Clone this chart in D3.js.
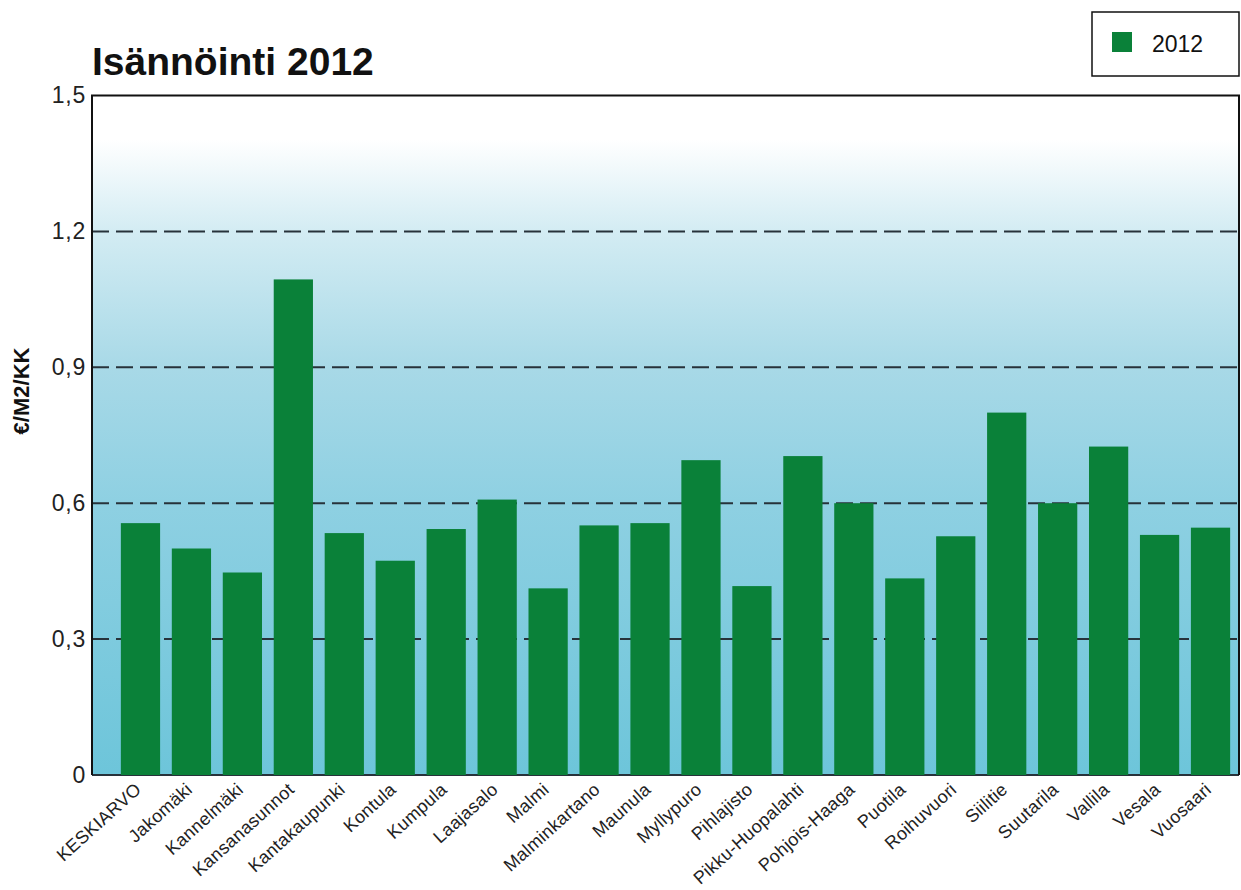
<!DOCTYPE html>
<html><head><meta charset="utf-8">
<script src="https://cdn.jsdelivr.net/npm/d3@7/dist/d3.min.js"></script>
<style>body{margin:0;background:#fff}</style>
</head><body><svg id="c" width="1241" height="890"></svg>
<script>
const categories = ["KESKIARVO","Jakomäki","Kannelmäki","Kansanasunnot","Kantakaupunki","Kontula","Kumpula","Laajasalo","Malmi","Malminkartano","Maunula","Myllypuro","Pihlajisto","Pikku-Huopalahti","Pohjois-Haaga","Puotila","Roihuvuori","Siilitie","Suutarila","Vallila","Vesala","Vuosaari"];
const values2012 = [0.556,0.50,0.447,1.094,0.534,0.473,0.543,0.608,0.412,0.551,0.556,0.695,0.417,0.704,0.60,0.434,0.527,0.80,0.60,0.725,0.530,0.546];
const yTicks = [0,0.3,0.6,0.9,1.2,1.5];
const gridTicks = [0,0.3,0.6,0.9,1.2];
const seriesName = "2012";
const titleText = "Isännöinti 2012";
const yTitleText = "€/M2/KK";

const svg = d3.select("#c");
const font = "'Liberation Sans', Arial, sans-serif";
const L = 92, R = 1239, T = 95.5, B = 775;

const y = d3.scaleLinear().domain([0, 1.5]).range([B, T]);
const x = d3.scaleBand().domain(categories).range([115, 1236]).paddingInner(0.23).paddingOuter(0.115);

// background gradient
const defs = svg.append("defs");
const g = defs.append("linearGradient").attr("id","bg").attr("x1",0).attr("y1",0).attr("x2",0).attr("y2",1);
[[0,"#ffffff"],[0.065,"#ffffff"],[0.2,"#d3ecf3"],[0.4,"#a8d9e7"],[0.6,"#8ed0e2"],[1,"#6dc5da"]].forEach(s=>{
  g.append("stop").attr("offset",s[0]).attr("stop-color",s[1]);
});
svg.append("rect").attr("x",L).attr("y",T).attr("width",R-L).attr("height",B-T).attr("fill","url(#bg)");

// grid lines
svg.append("g").selectAll("line").data(gridTicks).join("line")
  .attr("x1",L).attr("x2",R).attr("y1",d=>y(d)).attr("y2",d=>y(d))
  .attr("stroke","#27323a").attr("stroke-width",2)
  .attr("stroke-dasharray",d=>d===0?null:"17,7");

// bars
svg.append("g").selectAll("rect").data(values2012).join("rect")
  .attr("x",(d,i)=>x(categories[i])).attr("width",x.bandwidth())
  .attr("y",d=>y(d)).attr("height",d=>B-y(d))
  .attr("fill","#0a8139");

// frame (top, left, right)
svg.append("path").attr("d",`M${L},${B}V${T}H${R}V${B}`).attr("fill","none").attr("stroke","#111").attr("stroke-width",2);

// y axis labels
const fmt = v => v===0 ? "0" : d3.format(".1f")(v).replace(".",",");
const yAxis = d3.axisLeft(y).tickValues(yTicks).tickFormat(fmt).tickSize(0).tickPadding(6);
const ya = svg.append("g").attr("transform",`translate(${L},0)`).call(yAxis);
ya.select(".domain").remove();
ya.selectAll("text").attr("font-family",font).attr("font-size",23).attr("letter-spacing","0.8px").attr("fill","#222");

// x axis labels
const xAxis = d3.axisBottom(x).tickSize(0).tickPadding(0);
const xa = svg.append("g").attr("transform",`translate(0,${B})`).call(xAxis);
xa.select(".domain").remove();
xa.selectAll("text")
  .attr("font-family",font).attr("font-size",18).attr("letter-spacing","0.3px").attr("fill","#222")
  .attr("text-anchor","end").attr("dy",null).attr("y",null)
  .attr("transform","translate(2,16) rotate(-42)");

// title
svg.append("text").attr("x",L).attr("y",75).attr("font-family",font).attr("font-weight","bold")
  .attr("font-size",39).attr("fill","#111").text(titleText);

// y title
svg.append("text").attr("transform","translate(29,391) rotate(-90)").attr("text-anchor","middle")
  .attr("font-family",font).attr("font-weight","bold").attr("font-size",22).attr("fill","#111").text(yTitleText);

// legend
const lg = svg.append("g");
lg.append("rect").attr("x",1092).attr("y",12).attr("width",147).attr("height",64).attr("fill","#fff").attr("stroke","#111").attr("stroke-width",1.5);
lg.append("rect").attr("x",1112).attr("y",32).attr("width",20).attr("height",20).attr("fill","#0a8139");
lg.append("text").attr("x",1152).attr("y",52).attr("font-family",font).attr("font-size",23).attr("fill","#111").text(seriesName);
</script></body></html>
